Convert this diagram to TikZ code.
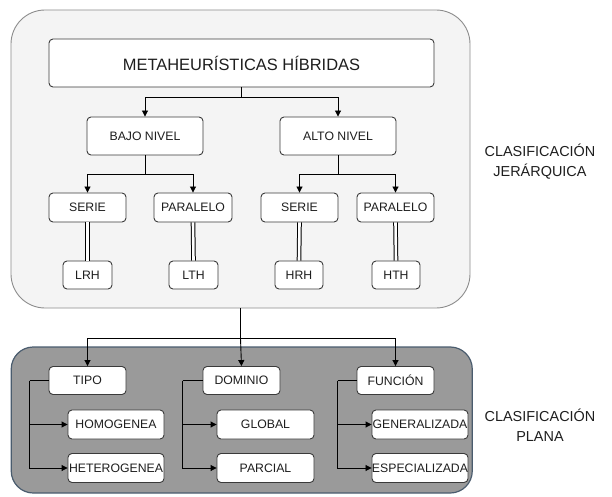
\documentclass[tikz,border=0pt]{standalone}
\usepackage{fontspec}
\setmainfont{Liberation Sans}
\usetikzlibrary{arrows.meta}
\definecolor{panelA}{HTML}{F4F4F4}
\definecolor{panelAedge}{HTML}{8C8C8C}
\definecolor{panelB}{HTML}{9A9A9A}
\definecolor{panelBedge}{HTML}{4A5C6E}
\definecolor{boxedge}{HTML}{3A3A3A}
\definecolor{ink}{HTML}{1E1E1E}
\begin{document}
\begin{tikzpicture}[x=1bp,y=-1bp,
  panel/.style={draw, rounded corners=#1, inner sep=0pt},
  box/.style={draw=boxedge, fill=white, rounded corners=4bp, line width=0.9bp,
    inner sep=0pt, text=ink, font=\fontsize{12.3}{14}\selectfont},
  link/.style={draw=black, line width=0.9bp},
  arr/.style={link, -{Triangle[length=6bp,width=6bp]}},
  dbl/.style={draw=black, line width=1bp, double=white, double distance=2.6bp},
  side/.style={text=ink, align=center, font=\fontsize{14.5}{20}\selectfont}
]
\useasboundingbox (0,0) rectangle (612,497);

% containers
\node[panel=34bp, draw=panelAedge, fill=panelA, line width=0.9bp,
  minimum width=459bp, minimum height=298bp] (top) at (240.5,159) {};
\node[panel=22bp, draw=panelBedge, fill=panelB, line width=1.2bp,
  minimum width=461bp, minimum height=146bp] (bot) at (241.75,420) {};

% hierarchical classification
\node[box, minimum width=385bp, minimum height=48bp, font=\fontsize{16.5}{18}\selectfont]
  (meta) at (241.5,63) {METAHEURÍSTICAS HÍBRIDAS};
\node[box, minimum width=116bp, minimum height=38bp] (bajo) at (145,136) {BAJO NIVEL};
\node[box, minimum width=116bp, minimum height=38bp] (alto) at (338,136) {ALTO NIVEL};

\node[box, minimum width=77bp, minimum height=29bp] (s1) at (87.5,207.5) {SERIE};
\node[box, minimum width=78bp, minimum height=29bp] (p1) at (193,207.5) {PARALELO};
\node[box, minimum width=77bp, minimum height=29bp] (s2) at (299.5,207.5) {SERIE};
\node[box, minimum width=77bp, minimum height=29bp] (p2) at (395.5,207.5) {PARALELO};

\node[box, minimum width=49bp, minimum height=28bp] (lrh) at (87.5,275) {LRH};
\node[box, minimum width=49bp, minimum height=28bp] (lth) at (193.5,275) {LTH};
\node[box, minimum width=48bp, minimum height=28bp] (hrh) at (299,275) {HRH};
\node[box, minimum width=48bp, minimum height=28bp] (hth) at (396,275) {HTH};

% flat classification
\node[box, minimum width=77bp, minimum height=28bp] (tipo) at (87.5,380.5) {TIPO};
\node[box, minimum width=77bp, minimum height=28bp] (dom) at (241.5,380.5) {DOMINIO};
\node[box, minimum width=77bp, minimum height=28bp] (fun) at (395.5,380.5) {FUNCIÓN};

\node[box, minimum width=96bp, minimum height=29bp] (homo) at (116,424.5) {HOMOGENEA};
\node[box, minimum width=96bp, minimum height=29bp] (hete) at (116,468) {HETEROGENEA};
\node[box, minimum width=97bp, minimum height=29bp] (glob) at (265.5,424.5) {GLOBAL};
\node[box, minimum width=97bp, minimum height=29bp] (parc) at (265.5,468) {PARCIAL};
\node[box, minimum width=96bp, minimum height=29bp] (gen) at (420,424.5) {GENERALIZADA};
\node[box, minimum width=96bp, minimum height=29bp] (esp) at (420,468) {ESPECIALIZADA};

% side captions
\node[side] (capA) at (540,162) {CLASIFICACIÓN\\JERÁRQUICA};
\node[side] (capB) at (540,425) {CLASIFICACIÓN\\PLANA};

% tree connectors
\draw[link] (meta.south) -- ++(0,10) coordinate (jm);
\draw[arr] (jm) -| (bajo.north);
\draw[arr] (jm) -| (alto.north);

\draw[link] (bajo.south) -- ++(0,19) coordinate (jb);
\draw[arr] (jb) -| (s1.north);
\draw[arr] (jb) -| (p1.north);

\draw[link] (alto.south) -- ++(0,19) coordinate (ja);
\draw[arr] (ja) -| (s2.north);
\draw[arr] (ja) -| (p2.north);

\draw[dbl] (s1.south) -- (lrh.north);
\draw[dbl] (p1.south) -- (lth.north);
\draw[dbl] (s2.south) -- (hrh.north);
\draw[dbl] (p2.south) -- (hth.north);

% link between the two classifications
\draw[link] (top.south) -- ++(0,30) coordinate (jt);
\draw[arr] (jt) -| (tipo.north);
\draw[arr] (jt) -- (dom.north);
\draw[arr] (jt) -| (fun.north);

% side brackets inside the flat classification
\draw[link] (tipo.west) -- ++(-19,0) coordinate (jtipo);
\draw[arr] (jtipo) |- (homo.west);
\draw[arr] (jtipo) |- (hete.west);
\draw[link] (dom.west) -- ++(-20,0) coordinate (jdom);
\draw[arr] (jdom) |- (glob.west);
\draw[arr] (jdom) |- (parc.west);
\draw[link] (fun.west) -- ++(-19,0) coordinate (jfun);
\draw[arr] (jfun) |- (gen.west);
\draw[arr] (jfun) |- (esp.west);
\end{tikzpicture}
\end{document}
